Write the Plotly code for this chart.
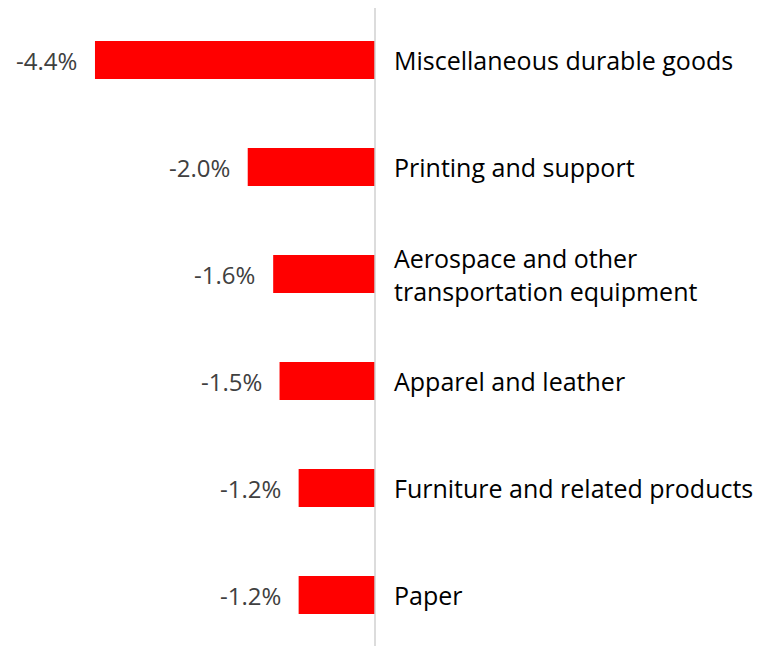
import plotly.graph_objects as go

categories = ["Miscellaneous durable goods", "Printing and support",
              "Aerospace and other<br>transportation equipment", "Apparel and leather",
              "Furniture and related products", "Paper"]
values = [-4.4, -2.0, -1.6, -1.5, -1.2, -1.2]
value_labels = ["-4.4%", "-2.0%", "-1.6%", "-1.5%", "-1.2%", "-1.2%"]

FONT = "'Open Sans', sans-serif"
ypos = list(range(len(categories)))

# screen offset (body margin) compensation
OX, OY = 8, 8
PX_PER_UNIT = 63.64
ZERO_PX = 375 - OX
ROW_PX = 107
FIRST_PX = 60 - OY

fig = go.Figure()
fig.add_trace(go.Bar(
    x=values, y=ypos, orientation="h",
    marker=dict(color="#ff0000", line=dict(width=0)),
    width=0.355, hoverinfo="skip",
))

for i, (v, lab) in enumerate(zip(values, value_labels)):
    fig.add_annotation(x=v, y=i, text=lab, showarrow=False, xanchor="right",
                       xshift=-16,
                       font=dict(family=FONT, size=24, color="#404040"))

for i, c in enumerate(categories):
    fig.add_annotation(x=0, y=i, text=c, showarrow=False, xanchor="left",
                       xshift=17, align="left",
                       font=dict(family=FONT, size=25, color="#000000"))

fig.add_shape(type="line", xref="x", yref="paper", x0=0, x1=0, y0=0, y1=1,
              line=dict(color="#d0d0d0", width=1.5))

fig.update_layout(
    width=763, height=646,
    margin=dict(l=0, r=0, t=0, b=0),
    paper_bgcolor="white", plot_bgcolor="white",
    showlegend=False,
    xaxis=dict(range=[-ZERO_PX / PX_PER_UNIT, (763 - ZERO_PX) / PX_PER_UNIT],
               visible=False, fixedrange=True),
    yaxis=dict(range=[(646 - FIRST_PX) / ROW_PX, -FIRST_PX / ROW_PX], visible=False),
)

fig.write_html("out.html")
